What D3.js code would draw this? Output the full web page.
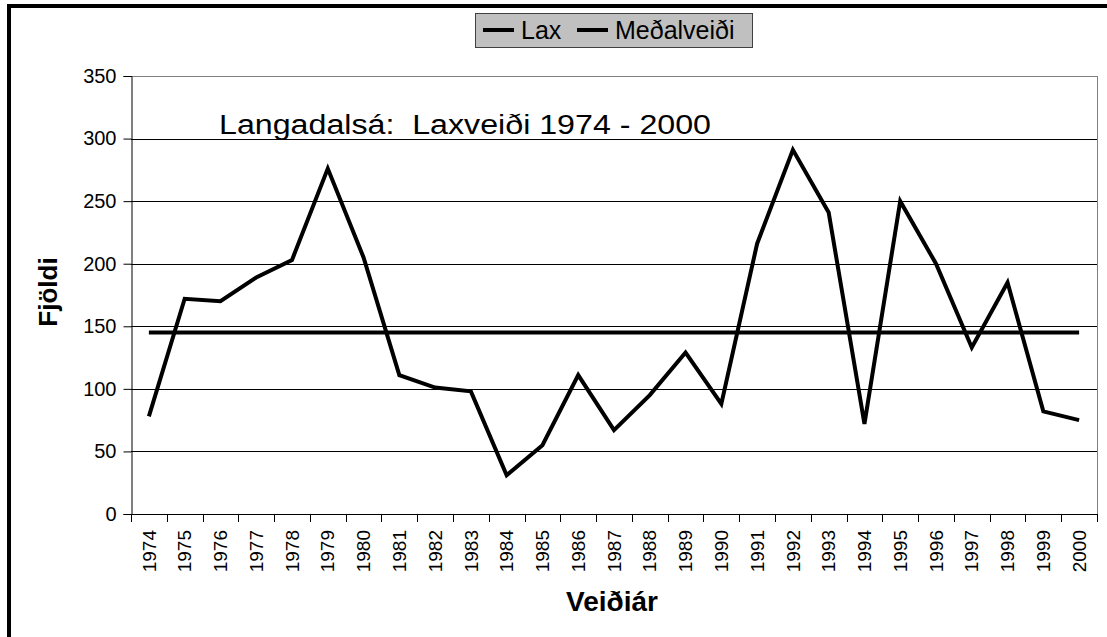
<!DOCTYPE html>
<html lang="is">
<head>
  <meta charset="UTF-8">
  <title>Langadalsá: Laxveiði 1974 - 2000</title>
  <script src="https://cdn.jsdelivr.net/npm/d3@7"></script>
  <style>
    body { margin: 0; background: #fff; }
    text { font-family: "Liberation Sans", Arial, sans-serif; fill: #000; }
  </style>
</head>
<body>

<div id="grafica"></div>

<script>
// gögn lesin af myndinni
const ar = [1974, 1975, 1976, 1977, 1978, 1979, 1980, 1981, 1982, 1983, 1984, 1985, 1986, 1987,
            1988, 1989, 1990, 1991, 1992, 1993, 1994, 1995, 1996, 1997, 1998, 1999, 2000]
const lax = [78, 172, 170, 189, 203, 276, 205, 111, 101, 98, 31, 55, 111, 67,
             95, 129, 88, 216, 291, 241, 72, 250, 200, 133, 185, 82, 75]
const medalveidi = [145, 145, 145, 145, 145, 145, 145, 145, 145, 145, 145, 145, 145, 145,
                    145, 145, 145, 145, 145, 145, 145, 145, 145, 145, 145, 145, 145]
const yTicks = [0, 50, 100, 150, 200, 250, 300, 350]
const seriesNames = ['Lax', 'Meðalveiði']

const ancho_total = 1107
const alto_total = 637
const margin = {left: 131, right: 10, top: 76, bottom: 123}
const ancho = ancho_total - margin.left - margin.right
const alto = alto_total - margin.top - margin.bottom

const svg = d3.select('#grafica')
  .append('svg')
    .attr('width', ancho_total)
    .attr('height', alto_total)

// rammi um allt grafið
svg.append('rect')
  .attr('x', 9)
  .attr('y', 6)
  .attr('width', 1120)
  .attr('height', 650)
  .attr('fill', '#fff')
  .attr('stroke', '#000')
  .attr('stroke-width', 4)

const g = svg.append('g')
  .attr('transform', `translate(${margin.left}, ${margin.top})`)

const x = d3.scaleBand()
  .domain(ar)
  .range([0, ancho])
  .padding(0)

const y = d3.scaleLinear()
  .domain([0, 350])
  .range([alto, 0])

// hnitalínur
g.append('g')
  .selectAll('line')
  .data(yTicks.slice(1))
  .enter()
  .append('line')
    .attr('x1', 0)
    .attr('x2', ancho)
    .attr('y1', d => Math.round(y(d)) + 0.5)
    .attr('y2', d => Math.round(y(d)) + 0.5)
    .attr('stroke', d => d === 350 ? '#808080' : '#000')
    .attr('stroke-width', 1)

// hægri brún
g.append('line')
  .attr('x1', ancho + 0.5)
  .attr('x2', ancho + 0.5)
  .attr('y1', 0)
  .attr('y2', alto)
  .attr('stroke', '#808080')

// y-ás
const yAxisCall = d3.axisLeft(y)
  .tickValues(yTicks)
  .tickSize(8)
  .tickPadding(7)

const yAxis = g.append('g')
  .attr('transform', 'translate(0.5, 0)')
  .call(yAxisCall)
yAxis.select('.domain').attr('stroke', '#000')
yAxis.selectAll('.tick line').attr('stroke', '#000')
yAxis.selectAll('text')
  .style('font-size', '20px')
  .style('font-family', '"Liberation Sans", Arial, sans-serif')

// x-ás: strik á milli ára
const xAxis = g.append('g')
  .attr('transform', `translate(0, ${alto})`)

xAxis.append('line')
  .attr('x1', 0)
  .attr('x2', ancho)
  .attr('y1', 0.5)
  .attr('y2', 0.5)
  .attr('stroke', '#000')

xAxis.selectAll('.tik')
  .data(ar.concat(['end']))
  .enter()
  .append('line')
    .attr('class', 'tik')
    .attr('x1', d => Math.round(d === 'end' ? ancho : x(d)) + 0.5)
    .attr('x2', d => Math.round(d === 'end' ? ancho : x(d)) + 0.5)
    .attr('y1', 0)
    .attr('y2', 8)
    .attr('stroke', '#000')

xAxis.selectAll('.ar')
  .data(ar)
  .enter()
  .append('text')
    .attr('class', 'ar')
    .attr('transform', d => `translate(${x(d) + x.bandwidth() / 2}, 16) rotate(-90)`)
    .attr('dy', '0.35em')
    .attr('text-anchor', 'end')
    .style('font-size', '19px')
    .text(d => d)

// línurnar
const line = d3.line()
  .x((d, i) => x(ar[i]) + x.bandwidth() / 2)
  .y(d => y(d))

g.append('path')
  .datum(medalveidi)
  .attr('d', line)
  .attr('fill', 'none')
  .attr('stroke', '#000')
  .attr('stroke-width', 4)

g.append('path')
  .datum(lax)
  .attr('d', line)
  .attr('fill', 'none')
  .attr('stroke', '#000')
  .attr('stroke-width', 4)
  .attr('stroke-linejoin', 'miter')

// titill inni í grafinu
svg.append('text')
  .attr('x', 219)
  .attr('y', 134)
  .attr('textLength', 492)
  .attr('lengthAdjust', 'spacingAndGlyphs')
  .style('font-size', '27px')
  .style('white-space', 'pre')
  .text('Langadalsá:  Laxveiði 1974 - 2000')

// ása titlar
svg.append('text')
  .attr('x', 612)
  .attr('y', 611)
  .attr('text-anchor', 'middle')
  .style('font-size', '28px')
  .style('font-weight', 'bold')
  .text('Veiðiár')

svg.append('text')
  .attr('transform', 'translate(57, 292) rotate(-90)')
  .attr('text-anchor', 'middle')
  .style('font-size', '26px')
  .style('font-weight', 'bold')
  .text('Fjöldi')

// skýringar
const legend = svg.append('g')

legend.append('rect')
  .attr('x', 475.5)
  .attr('y', 13.5)
  .attr('width', 277)
  .attr('height', 34)
  .attr('fill', '#c0c0c0')
  .attr('stroke', '#404040')
  .attr('stroke-width', 1)

const legendX = [483, 577]
seriesNames.forEach((name, i) => {
  legend.append('line')
    .attr('x1', legendX[i])
    .attr('x2', legendX[i] + 31)
    .attr('y1', 30)
    .attr('y2', 30)
    .attr('stroke', '#000')
    .attr('stroke-width', 4)
  legend.append('text')
    .attr('x', legendX[i] + 38)
    .attr('y', 39)
    .style('font-size', '25px')
    .text(name)
})
</script>

</body>
</html>
